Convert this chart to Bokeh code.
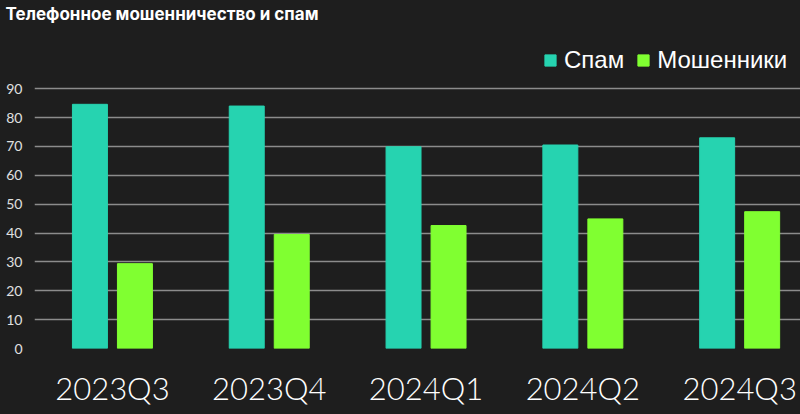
from bokeh.plotting import figure
from bokeh.models import ColumnDataSource, FixedTicker, Range1d, Legend, LegendItem
from bokeh.transform import dodge
from bokeh.embed import file_html
from bokeh.resources import INLINE

categories = ["2023Q3", "2023Q4", "2024Q1", "2024Q2", "2024Q3"]
spam = [84.6, 84.0, 69.9, 70.5, 73.0]
scammers = [29.4, 39.5, 42.6, 44.9, 47.4]
y_ticks = [0, 10, 20, 30, 40, 50, 60, 70, 80, 90]
series_names = ["Спам", "Мошенники"]
title_text = "Телефонное мошенничество и спам"

BG = "#1e1e1e"
C_SPAM = "#26d3b0"
C_SCAM = "#80ff31"

src = ColumnDataSource(dict(x=list(range(len(categories))), spam=spam, scam=scammers))

p = figure(width=800, height=414, output_backend="svg", toolbar_location=None,
           x_range=Range1d(-0.497, 4.388), y_range=Range1d(0, 112.6),
           background_fill_color=BG, background_fill_alpha=0,
           border_fill_color=BG, border_fill_alpha=0,
           min_border_left=34, min_border_right=0, min_border_top=23, min_border_bottom=66)
p.outline_line_color = None

p.title.text = title_text
p.title.text_color = "#ffffff"
p.title.text_font = "Inter"
p.title.text_font_size = "17px"
p.title.text_font_style = "bold"
p.title.offset = -29
p.title.standoff = 0

r1 = p.vbar(x=dodge("x", -0.1435, range=p.x_range), top="spam", width=0.223, source=src,
            fill_color=C_SPAM, line_color=C_SPAM)
r2 = p.vbar(x=dodge("x", 0.1435, range=p.x_range), top="scam", width=0.223, source=src,
            fill_color=C_SCAM, line_color=C_SCAM)

# axes
xa = p.xaxis[0]
xa.ticker = FixedTicker(ticks=list(range(len(categories))))
xa.major_label_overrides = {i: c for i, c in enumerate(categories)}
xa.axis_line_color = None
xa.major_tick_line_color = None
xa.minor_tick_line_color = None
xa.major_tick_out = 0
xa.major_label_standoff = 20
xa.major_label_text_font = "Lato Light"
xa.major_label_text_font_size = "31px"
xa.major_label_text_color = "#ffffff"

ya = p.yaxis[0]
ya.ticker = FixedTicker(ticks=y_ticks)
ya.axis_line_color = None
ya.major_tick_line_color = None
ya.minor_tick_line_color = None
ya.major_tick_out = 0
ya.major_label_standoff = 12
ya.major_label_text_font = "Lato"
ya.major_label_text_font_size = "14px"
ya.major_label_text_color = "#e0e0e0"

p.xgrid.grid_line_color = None
p.ygrid.grid_line_color = "#8c8c8c"
p.ygrid.grid_line_width = 1.5

legend = Legend(items=[LegendItem(label=series_names[0], renderers=[r1]),
                       LegendItem(label=series_names[1], renderers=[r2])],
                orientation="horizontal", location=(509, 274),
                background_fill_alpha=0, border_line_color=None,
                label_text_color="#ffffff", label_text_font="Liberation Sans",
                label_text_font_size="24px", glyph_width=14, glyph_height=14,
                label_standoff=7, spacing=12, margin=0, padding=0,
                label_height=24)
p.add_layout(legend)

html = file_html(p, INLINE)
html = html.replace("<head>", "<head><style>html, body { background: #1e1e1e; }</style>", 1)
open("out.html", "w").write(html)
